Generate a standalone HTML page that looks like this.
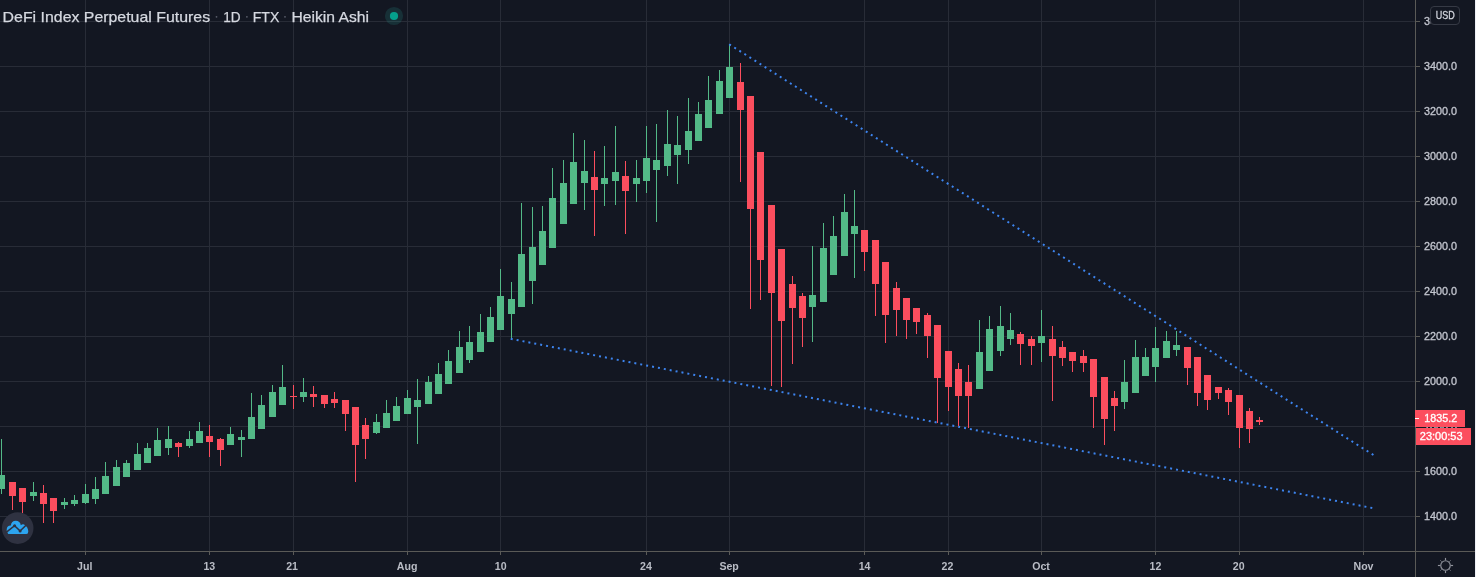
<!DOCTYPE html>
<html><head><meta charset="utf-8"><title>chart</title>
<style>html,body{margin:0;padding:0;background:#131722;width:1476px;height:577px;overflow:hidden}</style></head>
<body>
<svg width="1476" height="577" viewBox="0 0 1476 577" style="position:absolute;left:0;top:0">
<defs><filter id="gs" x="-5%" y="-50%" width="110%" height="200%"><feOffset dx="0" dy="0"/></filter></defs>
<rect width="1476" height="577" fill="#131722"/>
<g fill="#282c37" shape-rendering="crispEdges">
<rect x="0" y="21" width="1415" height="1"/>
<rect x="0" y="66" width="1415" height="1"/>
<rect x="0" y="111" width="1415" height="1"/>
<rect x="0" y="156" width="1415" height="1"/>
<rect x="0" y="201" width="1415" height="1"/>
<rect x="0" y="246" width="1415" height="1"/>
<rect x="0" y="291" width="1415" height="1"/>
<rect x="0" y="336" width="1415" height="1"/>
<rect x="0" y="381" width="1415" height="1"/>
<rect x="0" y="426" width="1415" height="1"/>
<rect x="0" y="471" width="1415" height="1"/>
<rect x="0" y="516" width="1415" height="1"/>
<rect x="85" y="0" width="1" height="551"/>
<rect x="209" y="0" width="1" height="551"/>
<rect x="293" y="0" width="1" height="551"/>
<rect x="407" y="0" width="1" height="551"/>
<rect x="500" y="0" width="1" height="551"/>
<rect x="646" y="0" width="1" height="551"/>
<rect x="729" y="0" width="1" height="551"/>
<rect x="864" y="0" width="1" height="551"/>
<rect x="948" y="0" width="1" height="551"/>
<rect x="1041" y="0" width="1" height="551"/>
<rect x="1155" y="0" width="1" height="551"/>
<rect x="1239" y="0" width="1" height="551"/>
<rect x="1363" y="0" width="1" height="551"/>
</g>
<g shape-rendering="crispEdges">
<rect x="1" y="439" width="1" height="55" fill="#53b987"/>
<rect x="-2" y="475" width="7" height="14" fill="#53b987"/>
<rect x="12" y="482" width="1" height="28" fill="#fc4e5e"/>
<rect x="9" y="482" width="7" height="14" fill="#fc4e5e"/>
<rect x="22" y="488" width="1" height="25" fill="#fc4e5e"/>
<rect x="19" y="488" width="7" height="14" fill="#fc4e5e"/>
<rect x="33" y="482" width="1" height="19" fill="#53b987"/>
<rect x="30" y="492" width="7" height="4" fill="#53b987"/>
<rect x="43" y="485" width="1" height="38" fill="#fc4e5e"/>
<rect x="40" y="493" width="7" height="11" fill="#fc4e5e"/>
<rect x="53" y="498" width="1" height="25" fill="#fc4e5e"/>
<rect x="50" y="498" width="7" height="13" fill="#fc4e5e"/>
<rect x="64" y="498" width="1" height="11" fill="#53b987"/>
<rect x="61" y="502" width="7" height="3" fill="#53b987"/>
<rect x="74" y="495" width="1" height="11" fill="#53b987"/>
<rect x="71" y="500" width="7" height="4" fill="#53b987"/>
<rect x="85" y="484" width="1" height="20" fill="#53b987"/>
<rect x="82" y="494" width="7" height="9" fill="#53b987"/>
<rect x="95" y="477" width="1" height="27" fill="#53b987"/>
<rect x="92" y="489" width="7" height="10" fill="#53b987"/>
<rect x="105" y="462" width="1" height="32" fill="#53b987"/>
<rect x="102" y="476" width="7" height="18" fill="#53b987"/>
<rect x="116" y="460" width="1" height="26" fill="#53b987"/>
<rect x="113" y="467" width="7" height="19" fill="#53b987"/>
<rect x="126" y="460" width="1" height="17" fill="#53b987"/>
<rect x="123" y="463" width="7" height="14" fill="#53b987"/>
<rect x="137" y="443" width="1" height="27" fill="#53b987"/>
<rect x="134" y="454" width="7" height="16" fill="#53b987"/>
<rect x="147" y="443" width="1" height="20" fill="#53b987"/>
<rect x="144" y="448" width="7" height="15" fill="#53b987"/>
<rect x="157" y="428" width="1" height="28" fill="#53b987"/>
<rect x="154" y="440" width="7" height="16" fill="#53b987"/>
<rect x="168" y="426" width="1" height="29" fill="#53b987"/>
<rect x="165" y="439" width="7" height="9" fill="#53b987"/>
<rect x="178" y="442" width="1" height="15" fill="#fc4e5e"/>
<rect x="175" y="443" width="7" height="4" fill="#fc4e5e"/>
<rect x="189" y="431" width="1" height="17" fill="#53b987"/>
<rect x="186" y="439" width="7" height="7" fill="#53b987"/>
<rect x="199" y="422" width="1" height="21" fill="#53b987"/>
<rect x="196" y="431" width="7" height="12" fill="#53b987"/>
<rect x="209" y="425" width="1" height="32" fill="#fc4e5e"/>
<rect x="206" y="436" width="7" height="6" fill="#fc4e5e"/>
<rect x="220" y="438" width="1" height="28" fill="#fc4e5e"/>
<rect x="217" y="439" width="7" height="11" fill="#fc4e5e"/>
<rect x="230" y="427" width="1" height="18" fill="#53b987"/>
<rect x="227" y="434" width="7" height="11" fill="#53b987"/>
<rect x="241" y="430" width="1" height="27" fill="#53b987"/>
<rect x="238" y="437" width="7" height="3" fill="#53b987"/>
<rect x="251" y="393" width="1" height="46" fill="#53b987"/>
<rect x="248" y="417" width="7" height="22" fill="#53b987"/>
<rect x="261" y="395" width="1" height="34" fill="#53b987"/>
<rect x="258" y="405" width="7" height="24" fill="#53b987"/>
<rect x="272" y="385" width="1" height="32" fill="#53b987"/>
<rect x="269" y="392" width="7" height="25" fill="#53b987"/>
<rect x="282" y="365" width="1" height="40" fill="#53b987"/>
<rect x="279" y="387" width="7" height="18" fill="#53b987"/>
<rect x="293" y="385" width="1" height="24" fill="#fc4e5e"/>
<rect x="290" y="396" width="7" height="1" fill="#fc4e5e"/>
<rect x="303" y="378" width="1" height="24" fill="#53b987"/>
<rect x="300" y="392" width="7" height="5" fill="#53b987"/>
<rect x="313" y="386" width="1" height="21" fill="#fc4e5e"/>
<rect x="310" y="394" width="7" height="3" fill="#fc4e5e"/>
<rect x="324" y="395" width="1" height="13" fill="#fc4e5e"/>
<rect x="321" y="395" width="7" height="9" fill="#fc4e5e"/>
<rect x="334" y="392" width="1" height="16" fill="#fc4e5e"/>
<rect x="331" y="399" width="7" height="4" fill="#fc4e5e"/>
<rect x="345" y="400" width="1" height="31" fill="#fc4e5e"/>
<rect x="342" y="400" width="7" height="14" fill="#fc4e5e"/>
<rect x="355" y="407" width="1" height="75" fill="#fc4e5e"/>
<rect x="352" y="407" width="7" height="38" fill="#fc4e5e"/>
<rect x="365" y="418" width="1" height="41" fill="#fc4e5e"/>
<rect x="362" y="425" width="7" height="14" fill="#fc4e5e"/>
<rect x="376" y="414" width="1" height="20" fill="#53b987"/>
<rect x="373" y="422" width="7" height="11" fill="#53b987"/>
<rect x="386" y="400" width="1" height="28" fill="#53b987"/>
<rect x="383" y="413" width="7" height="15" fill="#53b987"/>
<rect x="396" y="397" width="1" height="24" fill="#53b987"/>
<rect x="393" y="406" width="7" height="15" fill="#53b987"/>
<rect x="407" y="390" width="1" height="24" fill="#53b987"/>
<rect x="404" y="398" width="7" height="16" fill="#53b987"/>
<rect x="417" y="379" width="1" height="65" fill="#53b987"/>
<rect x="414" y="400" width="7" height="7" fill="#53b987"/>
<rect x="428" y="376" width="1" height="28" fill="#53b987"/>
<rect x="425" y="382" width="7" height="22" fill="#53b987"/>
<rect x="438" y="363" width="1" height="31" fill="#53b987"/>
<rect x="435" y="374" width="7" height="20" fill="#53b987"/>
<rect x="448" y="350" width="1" height="34" fill="#53b987"/>
<rect x="445" y="361" width="7" height="23" fill="#53b987"/>
<rect x="459" y="331" width="1" height="42" fill="#53b987"/>
<rect x="456" y="347" width="7" height="26" fill="#53b987"/>
<rect x="469" y="326" width="1" height="37" fill="#53b987"/>
<rect x="466" y="342" width="7" height="18" fill="#53b987"/>
<rect x="480" y="314" width="1" height="38" fill="#53b987"/>
<rect x="477" y="332" width="7" height="20" fill="#53b987"/>
<rect x="490" y="307" width="1" height="35" fill="#53b987"/>
<rect x="487" y="317" width="7" height="25" fill="#53b987"/>
<rect x="500" y="269" width="1" height="61" fill="#53b987"/>
<rect x="497" y="296" width="7" height="34" fill="#53b987"/>
<rect x="511" y="282" width="1" height="57" fill="#53b987"/>
<rect x="508" y="299" width="7" height="15" fill="#53b987"/>
<rect x="521" y="203" width="1" height="104" fill="#53b987"/>
<rect x="518" y="254" width="7" height="53" fill="#53b987"/>
<rect x="532" y="207" width="1" height="97" fill="#53b987"/>
<rect x="529" y="247" width="7" height="34" fill="#53b987"/>
<rect x="542" y="206" width="1" height="59" fill="#53b987"/>
<rect x="539" y="231" width="7" height="34" fill="#53b987"/>
<rect x="552" y="168" width="1" height="80" fill="#53b987"/>
<rect x="549" y="198" width="7" height="50" fill="#53b987"/>
<rect x="563" y="160" width="1" height="64" fill="#53b987"/>
<rect x="560" y="183" width="7" height="41" fill="#53b987"/>
<rect x="573" y="133" width="1" height="71" fill="#53b987"/>
<rect x="570" y="162" width="7" height="42" fill="#53b987"/>
<rect x="584" y="140" width="1" height="70" fill="#53b987"/>
<rect x="581" y="171" width="7" height="12" fill="#53b987"/>
<rect x="594" y="151" width="1" height="85" fill="#fc4e5e"/>
<rect x="591" y="177" width="7" height="13" fill="#fc4e5e"/>
<rect x="604" y="146" width="1" height="60" fill="#53b987"/>
<rect x="601" y="178" width="7" height="6" fill="#53b987"/>
<rect x="615" y="126" width="1" height="79" fill="#53b987"/>
<rect x="612" y="172" width="7" height="9" fill="#53b987"/>
<rect x="625" y="161" width="1" height="73" fill="#fc4e5e"/>
<rect x="622" y="176" width="7" height="15" fill="#fc4e5e"/>
<rect x="636" y="160" width="1" height="42" fill="#53b987"/>
<rect x="633" y="178" width="7" height="6" fill="#53b987"/>
<rect x="646" y="126" width="1" height="67" fill="#53b987"/>
<rect x="643" y="158" width="7" height="23" fill="#53b987"/>
<rect x="656" y="124" width="1" height="98" fill="#53b987"/>
<rect x="653" y="160" width="7" height="10" fill="#53b987"/>
<rect x="667" y="110" width="1" height="66" fill="#53b987"/>
<rect x="664" y="144" width="7" height="22" fill="#53b987"/>
<rect x="677" y="116" width="1" height="68" fill="#53b987"/>
<rect x="674" y="145" width="7" height="10" fill="#53b987"/>
<rect x="688" y="98" width="1" height="66" fill="#53b987"/>
<rect x="685" y="131" width="7" height="19" fill="#53b987"/>
<rect x="698" y="102" width="1" height="39" fill="#53b987"/>
<rect x="695" y="114" width="7" height="27" fill="#53b987"/>
<rect x="708" y="76" width="1" height="52" fill="#53b987"/>
<rect x="705" y="100" width="7" height="28" fill="#53b987"/>
<rect x="719" y="70" width="1" height="44" fill="#53b987"/>
<rect x="716" y="81" width="7" height="33" fill="#53b987"/>
<rect x="729" y="44" width="1" height="54" fill="#53b987"/>
<rect x="726" y="67" width="7" height="31" fill="#53b987"/>
<rect x="740" y="63" width="1" height="119" fill="#fc4e5e"/>
<rect x="737" y="82" width="7" height="28" fill="#fc4e5e"/>
<rect x="750" y="96" width="1" height="213" fill="#fc4e5e"/>
<rect x="747" y="96" width="7" height="113" fill="#fc4e5e"/>
<rect x="760" y="152" width="1" height="148" fill="#fc4e5e"/>
<rect x="757" y="152" width="7" height="108" fill="#fc4e5e"/>
<rect x="771" y="205" width="1" height="181" fill="#fc4e5e"/>
<rect x="768" y="205" width="7" height="88" fill="#fc4e5e"/>
<rect x="781" y="249" width="1" height="138" fill="#fc4e5e"/>
<rect x="778" y="249" width="7" height="72" fill="#fc4e5e"/>
<rect x="792" y="276" width="1" height="88" fill="#fc4e5e"/>
<rect x="789" y="284" width="7" height="24" fill="#fc4e5e"/>
<rect x="802" y="293" width="1" height="54" fill="#fc4e5e"/>
<rect x="799" y="296" width="7" height="22" fill="#fc4e5e"/>
<rect x="812" y="246" width="1" height="96" fill="#53b987"/>
<rect x="809" y="295" width="7" height="12" fill="#53b987"/>
<rect x="823" y="223" width="1" height="79" fill="#53b987"/>
<rect x="820" y="248" width="7" height="54" fill="#53b987"/>
<rect x="833" y="216" width="1" height="59" fill="#53b987"/>
<rect x="830" y="236" width="7" height="39" fill="#53b987"/>
<rect x="844" y="194" width="1" height="62" fill="#53b987"/>
<rect x="841" y="212" width="7" height="44" fill="#53b987"/>
<rect x="854" y="190" width="1" height="88" fill="#53b987"/>
<rect x="851" y="226" width="7" height="8" fill="#53b987"/>
<rect x="864" y="230" width="1" height="41" fill="#fc4e5e"/>
<rect x="861" y="230" width="7" height="22" fill="#fc4e5e"/>
<rect x="875" y="240" width="1" height="76" fill="#fc4e5e"/>
<rect x="872" y="240" width="7" height="44" fill="#fc4e5e"/>
<rect x="885" y="262" width="1" height="81" fill="#fc4e5e"/>
<rect x="882" y="262" width="7" height="53" fill="#fc4e5e"/>
<rect x="896" y="282" width="1" height="54" fill="#fc4e5e"/>
<rect x="893" y="288" width="7" height="22" fill="#fc4e5e"/>
<rect x="906" y="298" width="1" height="41" fill="#fc4e5e"/>
<rect x="903" y="298" width="7" height="22" fill="#fc4e5e"/>
<rect x="916" y="308" width="1" height="26" fill="#fc4e5e"/>
<rect x="913" y="308" width="7" height="14" fill="#fc4e5e"/>
<rect x="927" y="313" width="1" height="45" fill="#fc4e5e"/>
<rect x="924" y="315" width="7" height="21" fill="#fc4e5e"/>
<rect x="937" y="325" width="1" height="98" fill="#fc4e5e"/>
<rect x="934" y="325" width="7" height="53" fill="#fc4e5e"/>
<rect x="948" y="351" width="1" height="60" fill="#fc4e5e"/>
<rect x="945" y="351" width="7" height="36" fill="#fc4e5e"/>
<rect x="958" y="363" width="1" height="63" fill="#fc4e5e"/>
<rect x="955" y="369" width="7" height="27" fill="#fc4e5e"/>
<rect x="968" y="365" width="1" height="63" fill="#fc4e5e"/>
<rect x="965" y="382" width="7" height="14" fill="#fc4e5e"/>
<rect x="979" y="320" width="1" height="69" fill="#53b987"/>
<rect x="976" y="352" width="7" height="37" fill="#53b987"/>
<rect x="989" y="316" width="1" height="55" fill="#53b987"/>
<rect x="986" y="329" width="7" height="42" fill="#53b987"/>
<rect x="1000" y="306" width="1" height="50" fill="#53b987"/>
<rect x="997" y="326" width="7" height="25" fill="#53b987"/>
<rect x="1010" y="313" width="1" height="32" fill="#53b987"/>
<rect x="1007" y="330" width="7" height="9" fill="#53b987"/>
<rect x="1020" y="332" width="1" height="33" fill="#fc4e5e"/>
<rect x="1017" y="334" width="7" height="10" fill="#fc4e5e"/>
<rect x="1031" y="336" width="1" height="29" fill="#fc4e5e"/>
<rect x="1028" y="339" width="7" height="7" fill="#fc4e5e"/>
<rect x="1041" y="310" width="1" height="52" fill="#53b987"/>
<rect x="1038" y="336" width="7" height="7" fill="#53b987"/>
<rect x="1052" y="326" width="1" height="75" fill="#fc4e5e"/>
<rect x="1049" y="339" width="7" height="17" fill="#fc4e5e"/>
<rect x="1062" y="341" width="1" height="25" fill="#fc4e5e"/>
<rect x="1059" y="347" width="7" height="11" fill="#fc4e5e"/>
<rect x="1072" y="352" width="1" height="20" fill="#fc4e5e"/>
<rect x="1069" y="352" width="7" height="9" fill="#fc4e5e"/>
<rect x="1083" y="350" width="1" height="22" fill="#fc4e5e"/>
<rect x="1080" y="356" width="7" height="7" fill="#fc4e5e"/>
<rect x="1093" y="359" width="1" height="69" fill="#fc4e5e"/>
<rect x="1090" y="359" width="7" height="38" fill="#fc4e5e"/>
<rect x="1104" y="377" width="1" height="68" fill="#fc4e5e"/>
<rect x="1101" y="377" width="7" height="42" fill="#fc4e5e"/>
<rect x="1114" y="391" width="1" height="40" fill="#fc4e5e"/>
<rect x="1111" y="398" width="7" height="8" fill="#fc4e5e"/>
<rect x="1124" y="360" width="1" height="49" fill="#53b987"/>
<rect x="1121" y="382" width="7" height="20" fill="#53b987"/>
<rect x="1135" y="340" width="1" height="53" fill="#53b987"/>
<rect x="1132" y="357" width="7" height="36" fill="#53b987"/>
<rect x="1145" y="348" width="1" height="28" fill="#53b987"/>
<rect x="1142" y="357" width="7" height="19" fill="#53b987"/>
<rect x="1155" y="327" width="1" height="55" fill="#53b987"/>
<rect x="1152" y="348" width="7" height="19" fill="#53b987"/>
<rect x="1166" y="331" width="1" height="27" fill="#53b987"/>
<rect x="1163" y="341" width="7" height="17" fill="#53b987"/>
<rect x="1176" y="331" width="1" height="25" fill="#53b987"/>
<rect x="1173" y="345" width="7" height="5" fill="#53b987"/>
<rect x="1187" y="347" width="1" height="38" fill="#fc4e5e"/>
<rect x="1184" y="347" width="7" height="21" fill="#fc4e5e"/>
<rect x="1197" y="357" width="1" height="49" fill="#fc4e5e"/>
<rect x="1194" y="357" width="7" height="36" fill="#fc4e5e"/>
<rect x="1207" y="375" width="1" height="35" fill="#fc4e5e"/>
<rect x="1204" y="375" width="7" height="25" fill="#fc4e5e"/>
<rect x="1218" y="387" width="1" height="12" fill="#fc4e5e"/>
<rect x="1215" y="387" width="7" height="6" fill="#fc4e5e"/>
<rect x="1228" y="388" width="1" height="27" fill="#fc4e5e"/>
<rect x="1225" y="390" width="7" height="12" fill="#fc4e5e"/>
<rect x="1239" y="395" width="1" height="53" fill="#fc4e5e"/>
<rect x="1236" y="395" width="7" height="33" fill="#fc4e5e"/>
<rect x="1249" y="408" width="1" height="35" fill="#fc4e5e"/>
<rect x="1246" y="411" width="7" height="18" fill="#fc4e5e"/>
<rect x="1259" y="417" width="1" height="8" fill="#fc4e5e"/>
<rect x="1256" y="420" width="7" height="2" fill="#fc4e5e"/>
</g>
<g stroke="#3d84ee" stroke-width="2" stroke-dasharray="2 4" fill="none">
<line x1="729.21" y1="44.26" x2="1374.00" y2="455.38"/>
<line x1="510.72" y1="338.81" x2="1373.20" y2="508.20"/>
</g>
<rect x="1416" y="0" width="60" height="551" fill="#131722"/>
<g fill="#5a5a57" shape-rendering="crispEdges">
<rect x="1415" y="0" width="1" height="577"/>
<rect x="0" y="551" width="1476" height="1"/>
<rect x="1416" y="21" width="4" height="1"/>
<rect x="1416" y="66" width="4" height="1"/>
<rect x="1416" y="111" width="4" height="1"/>
<rect x="1416" y="156" width="4" height="1"/>
<rect x="1416" y="201" width="4" height="1"/>
<rect x="1416" y="246" width="4" height="1"/>
<rect x="1416" y="291" width="4" height="1"/>
<rect x="1416" y="336" width="4" height="1"/>
<rect x="1416" y="381" width="4" height="1"/>
<rect x="1416" y="426" width="4" height="1"/>
<rect x="1416" y="471" width="4" height="1"/>
<rect x="1416" y="516" width="4" height="1"/>
<rect x="85" y="552" width="1" height="3"/>
<rect x="209" y="552" width="1" height="3"/>
<rect x="293" y="552" width="1" height="3"/>
<rect x="407" y="552" width="1" height="3"/>
<rect x="500" y="552" width="1" height="3"/>
<rect x="646" y="552" width="1" height="3"/>
<rect x="729" y="552" width="1" height="3"/>
<rect x="864" y="552" width="1" height="3"/>
<rect x="948" y="552" width="1" height="3"/>
<rect x="1041" y="552" width="1" height="3"/>
<rect x="1155" y="552" width="1" height="3"/>
<rect x="1239" y="552" width="1" height="3"/>
<rect x="1363" y="552" width="1" height="3"/>
</g>
<g font-family="Liberation Sans, sans-serif" font-size="11" fill="#c4c7d0" stroke="#c4c7d0" stroke-width="0.3" filter="url(#gs)">
<text x="1424" y="24.6" textLength="33" lengthAdjust="spacingAndGlyphs">3600.0</text>
<text x="1424" y="69.6" textLength="33" lengthAdjust="spacingAndGlyphs">3400.0</text>
<text x="1424" y="114.6" textLength="33" lengthAdjust="spacingAndGlyphs">3200.0</text>
<text x="1424" y="159.6" textLength="33" lengthAdjust="spacingAndGlyphs">3000.0</text>
<text x="1424" y="204.6" textLength="33" lengthAdjust="spacingAndGlyphs">2800.0</text>
<text x="1424" y="249.6" textLength="33" lengthAdjust="spacingAndGlyphs">2600.0</text>
<text x="1424" y="294.6" textLength="33" lengthAdjust="spacingAndGlyphs">2400.0</text>
<text x="1424" y="339.6" textLength="33" lengthAdjust="spacingAndGlyphs">2200.0</text>
<text x="1424" y="384.6" textLength="33" lengthAdjust="spacingAndGlyphs">2000.0</text>
<text x="1424" y="429.6" textLength="33" lengthAdjust="spacingAndGlyphs">1800.0</text>
<text x="1424" y="474.6" textLength="33" lengthAdjust="spacingAndGlyphs">1600.0</text>
<text x="1424" y="519.6" textLength="33" lengthAdjust="spacingAndGlyphs">1400.0</text>
</g>
<g font-family="Liberation Sans, sans-serif" font-size="10.6" font-weight="bold" fill="#b9bcc5" text-anchor="middle" filter="url(#gs)">
<text x="84.7" y="570">Jul</text>
<text x="209.3" y="570">13</text>
<text x="292.1" y="570">21</text>
<text x="407.1" y="570">Aug</text>
<text x="500.7" y="570">10</text>
<text x="646.0" y="570">24</text>
<text x="729.1" y="570">Sep</text>
<text x="864.6" y="570">14</text>
<text x="947.4" y="570">22</text>
<text x="1041.05" y="570">Oct</text>
<text x="1155.4" y="570">12</text>
<text x="1238.7" y="570">20</text>
<text x="1363.5" y="570">Nov</text>
</g>
<rect x="1415" y="410" width="50" height="17" fill="#fc4e5e" shape-rendering="crispEdges"/>
<rect x="1415" y="418" width="4" height="1" fill="#fff" shape-rendering="crispEdges"/>
<rect x="1416" y="428" width="55" height="17" fill="#fc4e5e" shape-rendering="crispEdges"/>
<g font-family="Liberation Sans, sans-serif" font-size="10.4" fill="#fff" stroke="#fff" stroke-width="0.3" filter="url(#gs)">
<text x="1424.3" y="421.7" textLength="32.8" lengthAdjust="spacingAndGlyphs">1835.2</text>
<text x="1419.8" y="439.7" textLength="42.8" lengthAdjust="spacingAndGlyphs">23:00:53</text>
</g>
<rect x="1431" y="0" width="44" height="30" fill="#131722"/>
<rect x="1430.5" y="6.5" width="29" height="18" rx="3.5" fill="#131722" stroke="#363a45"/>
<text x="1435.7" y="19.3" font-family="Liberation Sans, sans-serif" font-size="10.3" fill="#d1d4dc" stroke="#d1d4dc" stroke-width="0.3" textLength="19" lengthAdjust="spacingAndGlyphs" filter="url(#gs)">USD</text>
<g stroke="#90939c" stroke-width="1.15" fill="none">
<circle cx="1445.5" cy="565.5" r="4.75"/>
<line stroke-width="1.15" x1="1450.80" y1="565.50" x2="1453.10" y2="565.50"/>
<line stroke-width="0.9" x1="1449.46" y1="569.46" x2="1450.59" y2="570.59"/>
<line stroke-width="1.15" x1="1445.50" y1="570.80" x2="1445.50" y2="573.10"/>
<line stroke-width="0.9" x1="1441.54" y1="569.46" x2="1440.41" y2="570.59"/>
<line stroke-width="1.15" x1="1440.20" y1="565.50" x2="1437.90" y2="565.50"/>
<line stroke-width="0.9" x1="1441.54" y1="561.54" x2="1440.41" y2="560.41"/>
<line stroke-width="1.15" x1="1445.50" y1="560.20" x2="1445.50" y2="557.90"/>
<line stroke-width="0.9" x1="1449.46" y1="561.54" x2="1450.59" y2="560.41"/>
</g>
<g font-family="Liberation Sans, sans-serif" font-size="15.5" fill="#d5d8e0" stroke="#d5d8e0" stroke-width="0.25" filter="url(#gs)">
<text x="2.6" y="22" textLength="207.5" lengthAdjust="spacingAndGlyphs">DeFi Index Perpetual Futures</text>
<text x="223.3" y="22" textLength="17.4" lengthAdjust="spacingAndGlyphs">1D</text>
<text x="252.7" y="22" textLength="26.6" lengthAdjust="spacingAndGlyphs">FTX</text>
<text x="291.4" y="22" textLength="77.6" lengthAdjust="spacingAndGlyphs">Heikin Ashi</text>
</g>
<circle cx="216.5" cy="16.8" r="0.9" fill="#5a5e6b"/>
<circle cx="246.9" cy="16.8" r="0.9" fill="#5a5e6b"/>
<circle cx="285.0" cy="16.8" r="0.9" fill="#5a5e6b"/>
<circle cx="394" cy="16" r="9.1" fill="rgba(42,150,140,0.2)"/>
<circle cx="394" cy="16" r="4.1" fill="#05a08d"/>
<circle cx="17.7" cy="528.1" r="15.8" fill="#2f3241"/>
<path d="M8.7 534 H26.3 Q28.3 534 28.3 531.5 C28.3 528.5 26.5 526 25 525.2 C24 524 22 524 20.8 525.3 C20.5 522.5 18.5 520.8 15.8 520.8 C13 520.8 11 522.8 10.9 525.6 C8.8 525.3 6.7 527 6.7 529.5 V531 L8.2 534Z" fill="#2da5f0"/>
<path d="M5.8 532.6 L14.6 525.7 L20.1 531 L26 525.2" stroke="#2f3241" stroke-width="1.6" fill="none"/>
<circle cx="14.6" cy="525.7" r="1.5" fill="#2f3241"/><circle cx="20.1" cy="531" r="1.5" fill="#2f3241"/>
<rect x="1475" y="0" width="1" height="577" fill="#eef0f6" shape-rendering="crispEdges"/>
</svg>
</body></html>
